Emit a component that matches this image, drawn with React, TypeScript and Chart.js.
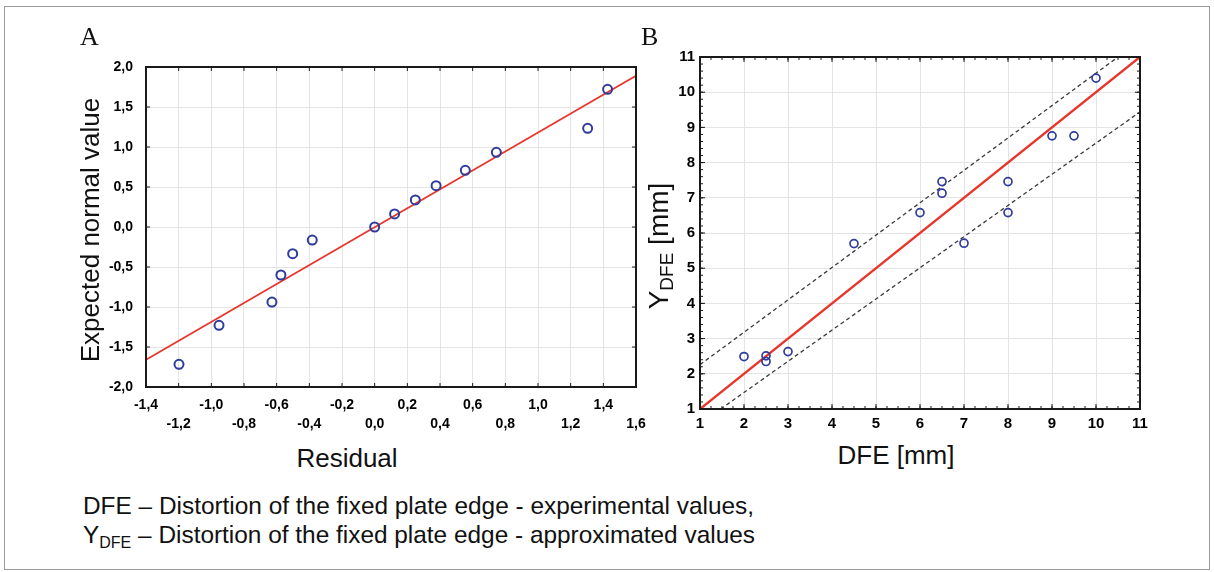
import React, { useEffect, useRef } from 'react';
import { Chart, registerables } from 'chart.js';

Chart.register(...registerables);

// ---------- Panel A: normal probability plot of residuals ----------
const residuals = [-1.198, -0.953, -0.629, -0.574, -0.502, -0.382, 0.0, 0.122, 0.249, 0.376, 0.555, 0.745, 1.304, 1.426];
const expectedNormal = [-1.716, -1.229, -0.938, -0.6, -0.334, -0.163, 0.0, 0.163, 0.338, 0.516, 0.709, 0.934, 1.234, 1.721];
const fitLineAX = [-1.4, 1.6];
const fitLineAY = [-1.66, 1.89];
const xTicksA = [-1.4, -1.2, -1.0, -0.8, -0.6, -0.4, -0.2, 0.0, 0.2, 0.4, 0.6, 0.8, 1.0, 1.2, 1.4, 1.6];
const yTicksA = [-2.0, -1.5, -1.0, -0.5, 0.0, 0.5, 1.0, 1.5, 2.0];

// ---------- Panel B: approximated vs experimental DFE ----------
const dfe = [2, 2.5, 2.5, 3, 4.5, 6, 6.5, 6.5, 7, 8, 8, 9, 9.5, 10];
const yDfe = [2.49, 2.51, 2.35, 2.63, 5.7, 6.58, 7.46, 7.13, 5.71, 7.46, 6.58, 8.76, 8.76, 10.4];
const idealLineX = [1, 11];
const idealLineY = [1, 11];
const upperBandX = [1, 10.5];
const upperBandY = [2.26, 11];
const lowerBandX = [1.47, 11];
const lowerBandY = [1, 9.44];
const ticksB = [1, 2, 3, 4, 5, 6, 7, 8, 9, 10, 11];

const SANS = '"Liberation Sans", Arial, sans-serif';
const BLUE = '#2f3c9c';
const RED = '#e8352b';

const toPts = (xs: number[], ys: number[]) => xs.map((x, i) => ({ x, y: ys[i] }));
const fmtComma = (v: number) => Number(v).toFixed(1).replace('-0.0', '0.0').replace('.', ',');

const framePlugin = {
  id: 'frame',
  afterDraw(chart: any, _args: any, opts: any) {
    const { ctx, chartArea } = chart;
    const { left, right, top, bottom } = chartArea;
    const xs = chart.scales.x;
    const ys = chart.scales.y;
    ctx.save();
    ctx.strokeStyle = opts.color || '#222';
    ctx.lineWidth = 1;
    const seg = (x1: number, y1: number, x2: number, y2: number) => {
      ctx.beginPath();
      ctx.moveTo(x1, y1);
      ctx.lineTo(x2, y2);
      ctx.stroke();
    };
    const major = opts.major || 4;
    xs.ticks.forEach((t: any) => {
      const p = xs.getPixelForValue(t.value);
      seg(p, top, p, top + major);
      seg(p, bottom, p, bottom - major);
    });
    ys.ticks.forEach((t: any) => {
      const p = ys.getPixelForValue(t.value);
      seg(left, p, left + major, p);
      seg(right, p, right - major, p);
    });
    if (opts.minorX) {
      for (let v = xs.min; v <= xs.max + 1e-9; v += opts.minorX) {
        const p = xs.getPixelForValue(v);
        seg(p, top, p, top + 3);
        seg(p, bottom, p, bottom - 3);
      }
    }
    if (opts.minorY) {
      for (let v = ys.min; v <= ys.max + 1e-9; v += opts.minorY) {
        const p = ys.getPixelForValue(v);
        seg(left, p, left + 3, p);
        seg(right, p, right - 3, p);
      }
    }
    ctx.lineWidth = opts.width || 2;
    ctx.strokeRect(left, top, right - left, bottom - top);
    ctx.restore();
  },
};

function useChart(ref: React.RefObject<HTMLCanvasElement>, makeConfig: () => any) {
  useEffect(() => {
    if (!ref.current) return;
    const chart = new Chart(ref.current, makeConfig());
    return () => chart.destroy();
  }, []);
}

function PanelA() {
  const ref = useRef<HTMLCanvasElement>(null);
  useChart(ref, () => ({
    type: 'scatter',
    data: {
      datasets: [
        {
          label: 'Residuals',
          data: toPts(residuals, expectedNormal),
          pointStyle: 'circle',
          pointRadius: 4.5,
          pointBorderWidth: 2,
          pointBorderColor: BLUE,
          pointBackgroundColor: 'rgba(0,0,0,0)',
          showLine: false,
        },
        {
          label: 'Fit',
          data: toPts(fitLineAX, fitLineAY),
          showLine: true,
          borderColor: RED,
          borderWidth: 1.8,
          pointRadius: 0,
          fill: false,
        },
      ],
    },
    options: {
      animation: false,
      responsive: false,
      devicePixelRatio: 1,
      layout: { padding: { left: 0, top: 67, right: 24, bottom: 0 } },
      plugins: {
        legend: { display: false },
        tooltip: { enabled: false },
        frame: { color: '#1a1a1a', width: 2, major: 4 },
      },
      scales: {
        x: {
          type: 'linear',
          min: -1.4,
          max: 1.6,
          afterBuildTicks: (s: any) => { s.ticks = xTicksA.map((v) => ({ value: v })); },
          afterFit: (s: any) => { s.height = 53; },
          grid: { color: '#e4e4e4', lineWidth: 1, drawTicks: false },
          border: { display: false },
          ticks: {
            autoSkip: false,
            maxRotation: 0,
            padding: 9,
            color: '#000',
            font: { family: SANS, size: 14, weight: 'bold', lineHeight: 1.35 },
            callback: (v: any, i: number) => (i % 2 === 0 ? fmtComma(v) : ['', fmtComma(v)]),
          },
        },
        y: {
          type: 'linear',
          min: -2,
          max: 2,
          afterBuildTicks: (s: any) => { s.ticks = yTicksA.map((v) => ({ value: v })); },
          afterFit: (s: any) => { s.width = 146; },
          grid: { color: '#e4e4e4', lineWidth: 1, drawTicks: false },
          border: { display: false },
          ticks: {
            padding: 13,
            color: '#000',
            font: { family: SANS, size: 14, weight: 'bold' },
            callback: (v: any) => fmtComma(v),
          },
        },
      },
    },
    plugins: [framePlugin],
  }));
  return (
    <canvas
      ref={ref}
      width={660}
      height={440}
      style={{ position: 'absolute', left: 0, top: 0, width: 660, height: 440 }}
    />
  );
}

function PanelB() {
  const ref = useRef<HTMLCanvasElement>(null);
  useChart(ref, () => ({
    type: 'scatter',
    data: {
      datasets: [
        {
          label: 'Observed',
          data: toPts(dfe, yDfe),
          pointStyle: 'circle',
          pointRadius: 4,
          pointBorderWidth: 1.7,
          pointBorderColor: BLUE,
          pointBackgroundColor: 'rgba(0,0,0,0)',
          showLine: false,
        },
        {
          label: 'Fit',
          data: toPts(idealLineX, idealLineY),
          showLine: true,
          borderColor: RED,
          borderWidth: 2.4,
          pointRadius: 0,
        },
        {
          label: 'Upper',
          data: toPts(upperBandX, upperBandY),
          showLine: true,
          borderColor: '#3a3a3a',
          borderWidth: 1.3,
          borderDash: [4, 3],
          pointRadius: 0,
        },
        {
          label: 'Lower',
          data: toPts(lowerBandX, lowerBandY),
          showLine: true,
          borderColor: '#3a3a3a',
          borderWidth: 1.3,
          borderDash: [4, 3],
          pointRadius: 0,
        },
      ],
    },
    options: {
      animation: false,
      responsive: false,
      devicePixelRatio: 1,
      layout: { padding: { left: 0, top: 57, right: 74, bottom: 0 } },
      plugins: {
        legend: { display: false },
        tooltip: { enabled: false },
        frame: { color: '#1a1a1a', width: 2, major: 5, minorX: 0.25, minorY: 0.2 },
      },
      scales: {
        x: {
          type: 'linear',
          min: 1,
          max: 11,
          afterBuildTicks: (s: any) => { s.ticks = ticksB.map((v) => ({ value: v })); },
          afterFit: (s: any) => { s.height = 31; },
          grid: { color: '#e4e4e4', lineWidth: 1, drawTicks: false },
          border: { display: false },
          ticks: {
            autoSkip: false,
            maxRotation: 0,
            padding: 6,
            color: '#000',
            font: { family: SANS, size: 15, weight: 'bold' },
          },
        },
        y: {
          type: 'linear',
          min: 1,
          max: 11,
          afterBuildTicks: (s: any) => { s.ticks = ticksB.map((v) => ({ value: v })); },
          afterFit: (s: any) => { s.width = 60; },
          grid: { color: '#e4e4e4', lineWidth: 1, drawTicks: false },
          border: { display: false },
          ticks: {
            padding: 5,
            color: '#000',
            font: { family: SANS, size: 15, weight: 'bold' },
          },
        },
      },
    },
    plugins: [framePlugin],
  }));
  return (
    <canvas
      ref={ref}
      width={574}
      height={440}
      style={{ position: 'absolute', left: 640, top: 0, width: 574, height: 440 }}
    />
  );
}

const abs = (extra: React.CSSProperties): React.CSSProperties => ({
  position: 'absolute',
  whiteSpace: 'nowrap',
  color: '#111',
  fontFamily: SANS,
  ...extra,
});

export default function App() {
  return (
    <div
      style={{
        position: 'fixed',
        left: 0,
        top: 0,
        width: 1214,
        height: 572,
        background: '#fff',
        overflow: 'hidden',
      }}
    >
      <div
        style={{
          position: 'absolute',
          left: 4,
          top: 6,
          width: 1204,
          height: 562,
          border: '1px solid #9a9a9a',
        }}
      />
      <PanelA />
      <PanelB />
      <div style={abs({ left: 80, top: 24, fontFamily: '"Liberation Serif", "Times New Roman", serif', fontSize: 26, lineHeight: '26px' })}>A</div>
      <div style={abs({ left: 641, top: 24, fontFamily: '"Liberation Serif", "Times New Roman", serif', fontSize: 26, lineHeight: '26px' })}>B</div>
      <div style={abs({ left: 347, top: 445, fontSize: 26, lineHeight: '26px', transform: 'translateX(-50%)' })}>Residual</div>
      <div style={abs({ left: 896, top: 442, fontSize: 26, lineHeight: '26px', transform: 'translateX(-50%)' })}>DFE [mm]</div>
      <div
        style={abs({
          left: 90,
          top: 230,
          fontSize: 26,
          lineHeight: '26px',
          transform: 'translate(-50%, -50%) rotate(-90deg)',
        })}
      >
        Expected normal value
      </div>
      <div
        style={abs({
          left: 660,
          top: 246,
          fontSize: 28,
          lineHeight: '28px',
          transform: 'translate(-50%, -50%) rotate(-90deg)',
        })}
      >
        Y<span style={{ fontSize: 19, position: 'relative', top: 5 }}>DFE</span> [mm]
      </div>
      <div style={abs({ left: 83, top: 491, fontSize: 24.4, lineHeight: '29px' })}>
        <div>DFE – Distortion of the fixed plate edge - experimental values,</div>
        <div>
          Y<span style={{ fontSize: 16, position: 'relative', top: 5 }}>DFE</span> – Distortion of the fixed plate edge - approximated values
        </div>
      </div>
    </div>
  );
}
